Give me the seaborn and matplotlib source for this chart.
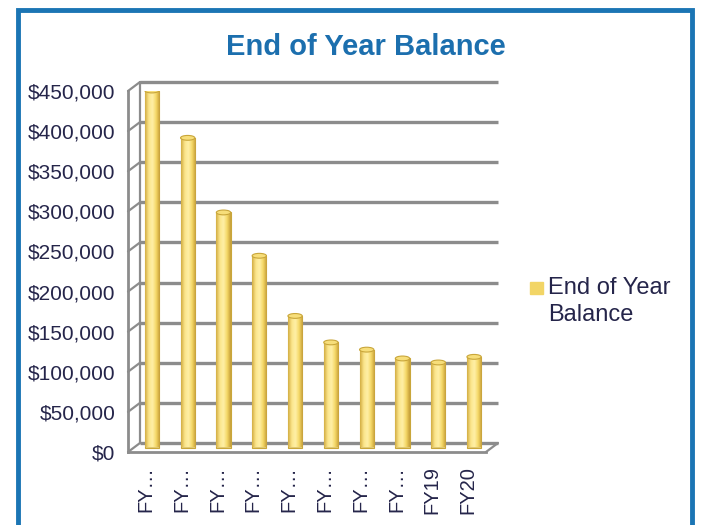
import numpy as np
import pandas as pd
import matplotlib
matplotlib.use("Agg")
import matplotlib.pyplot as plt
import matplotlib.patches as mpatches
from matplotlib.colors import LinearSegmentedColormap
from matplotlib.ticker import FuncFormatter
from matplotlib.transforms import ScaledTranslation
import seaborn as sns

# data
years = ["FY11", "FY12", "FY13", "FY14", "FY15", "FY16", "FY17", "FY18", "FY19", "FY20"]
tick_labels = ["FY…", "FY…", "FY…", "FY…", "FY…", "FY…", "FY…", "FY…", "FY19", "FY20"]
balance = [445000, 386000, 293000, 239000, 164000, 131000, 122000, 111000, 106000, 113000]
yticks = [0, 50000, 100000, 150000, 200000, 250000, 300000, 350000, 400000, 450000]

df = pd.DataFrame({"year": years, "balance": balance})

sns.set_theme(style="white")
plt.rcParams["font.family"] = ["Liberation Sans", "DejaVu Sans"]

text_col = "#25254a"
grid_col = "#8c8c8c"
bar_col = "#f2d566"

fig = plt.figure(figsize=(7.01, 5.25), dpi=100)
ax = fig.add_axes([128 / 701, 73 / 525, 358 / 701, 361 / 525])

# depth offsets for the fake 3D look (back wall and middle of the floor)
back = ScaledTranslation(12 / 100, 9 / 100, fig.dpi_scale_trans)
mid = ScaledTranslation(6 / 100, 4.5 / 100, fig.dpi_scale_trans)

sns.barplot(data=df, x="year", y="balance", color=bar_col, width=0.4,
            edgecolor="#c9a63a", linewidth=0.8, ax=ax, zorder=3)

# cylinder-ish shading on each bar plus an elliptic cap
cmap = LinearSegmentedColormap.from_list("cyl", ["#d2ad42", "#fbe58a", "#fff0a8", "#f5d866", "#c49d38"])
grad = np.linspace(0, 1, 64).reshape(1, -1)
for p in list(ax.patches):
    p.set_transform(ax.transData + mid)
    x0, y0 = p.get_x(), p.get_y()
    w, h = p.get_width(), p.get_height()
    im = ax.imshow(grad, cmap=cmap, aspect="auto", extent=[x0, x0 + w, y0, y0 + h],
                   zorder=4, interpolation="bicubic")
    im.set_transform(ax.transData + mid)
    im.set_clip_path(p)
    cap = mpatches.Ellipse((x0 + w / 2, y0 + h), w, 6000, facecolor="#f7de7a",
                           edgecolor="#c9a63a", linewidth=0.8, zorder=5,
                           transform=ax.transData + mid)
    ax.add_patch(cap)
ax.set_xlim(-0.5, len(years) - 0.5)
ax.set_ylim(0, 450000)

# back wall gridlines and the connecting side wall
yt = ax.get_yaxis_transform()
for v in yticks:
    ax.plot([0, 1], [v, v], transform=yt + back, color=grid_col, lw=2.4,
            zorder=1, clip_on=False, solid_capstyle="butt")
    ax.annotate("", xy=(0, v), xycoords=yt + back, xytext=(0, v), textcoords=yt,
                arrowprops=dict(arrowstyle="-", color=grid_col, lw=1.6, shrinkA=0, shrinkB=0))
ax.plot([0, 0], [0, 450000], transform=yt + back, color=grid_col, lw=1.6, clip_on=False, zorder=1)
# floor right edge
ax.annotate("", xy=(1, 0), xycoords=yt + back, xytext=(1, 0), textcoords=yt,
            arrowprops=dict(arrowstyle="-", color=grid_col, lw=1.6, shrinkA=0, shrinkB=0))

ax.yaxis.set_major_formatter(FuncFormatter(lambda v, pos: "${:,.0f}".format(v)))
ax.set_yticks(yticks)
ax.grid(False)

ax.set_xticks(range(len(years)))
ax.set_xticklabels(tick_labels, rotation=90)
ax.set_xticks(np.arange(-0.5, len(years), 1), minor=True)
ax.tick_params(axis="x", which="major", length=0, pad=10, labelsize=14.5, labelcolor=text_col)
ax.tick_params(axis="x", which="minor", length=6, color=grid_col, width=1.5, direction="out")
ax.tick_params(axis="y", length=5, color=grid_col, width=1.5, direction="out",
               labelsize=15, labelcolor=text_col, pad=4)
ax.set_xlabel("")
ax.set_ylabel("")

for s in ["top", "right"]:
    ax.spines[s].set_visible(False)
for s in ["left", "bottom"]:
    ax.spines[s].set_color(grid_col)
    ax.spines[s].set_linewidth(2)

# title
fig.text(366 / 701, 1 - 47 / 525, "End of Year Balance", ha="center", va="center",
         fontsize=21, fontweight="bold", color="#1c6fae")

# legend (square sits next to the first line)
fig.patches.append(mpatches.Rectangle((530 / 701, 1 - 294 / 525), 13 / 701, 12 / 525,
                                      transform=fig.transFigure, color=bar_col))
fig.text(548 / 701, 1 - 277 / 525, "End of Year\nBalance", ha="left", va="top",
         fontsize=17, color=text_col, linespacing=1.32)

# outer blue frame
fig.patches.append(mpatches.Rectangle((18 / 701, -0.02), 674 / 701, 1 - 10 / 525 + 0.02,
                                      transform=fig.transFigure, fill=False,
                                      edgecolor="#1b75b4", linewidth=3.5))

fig.savefig("out.png", dpi=100, facecolor="white")
